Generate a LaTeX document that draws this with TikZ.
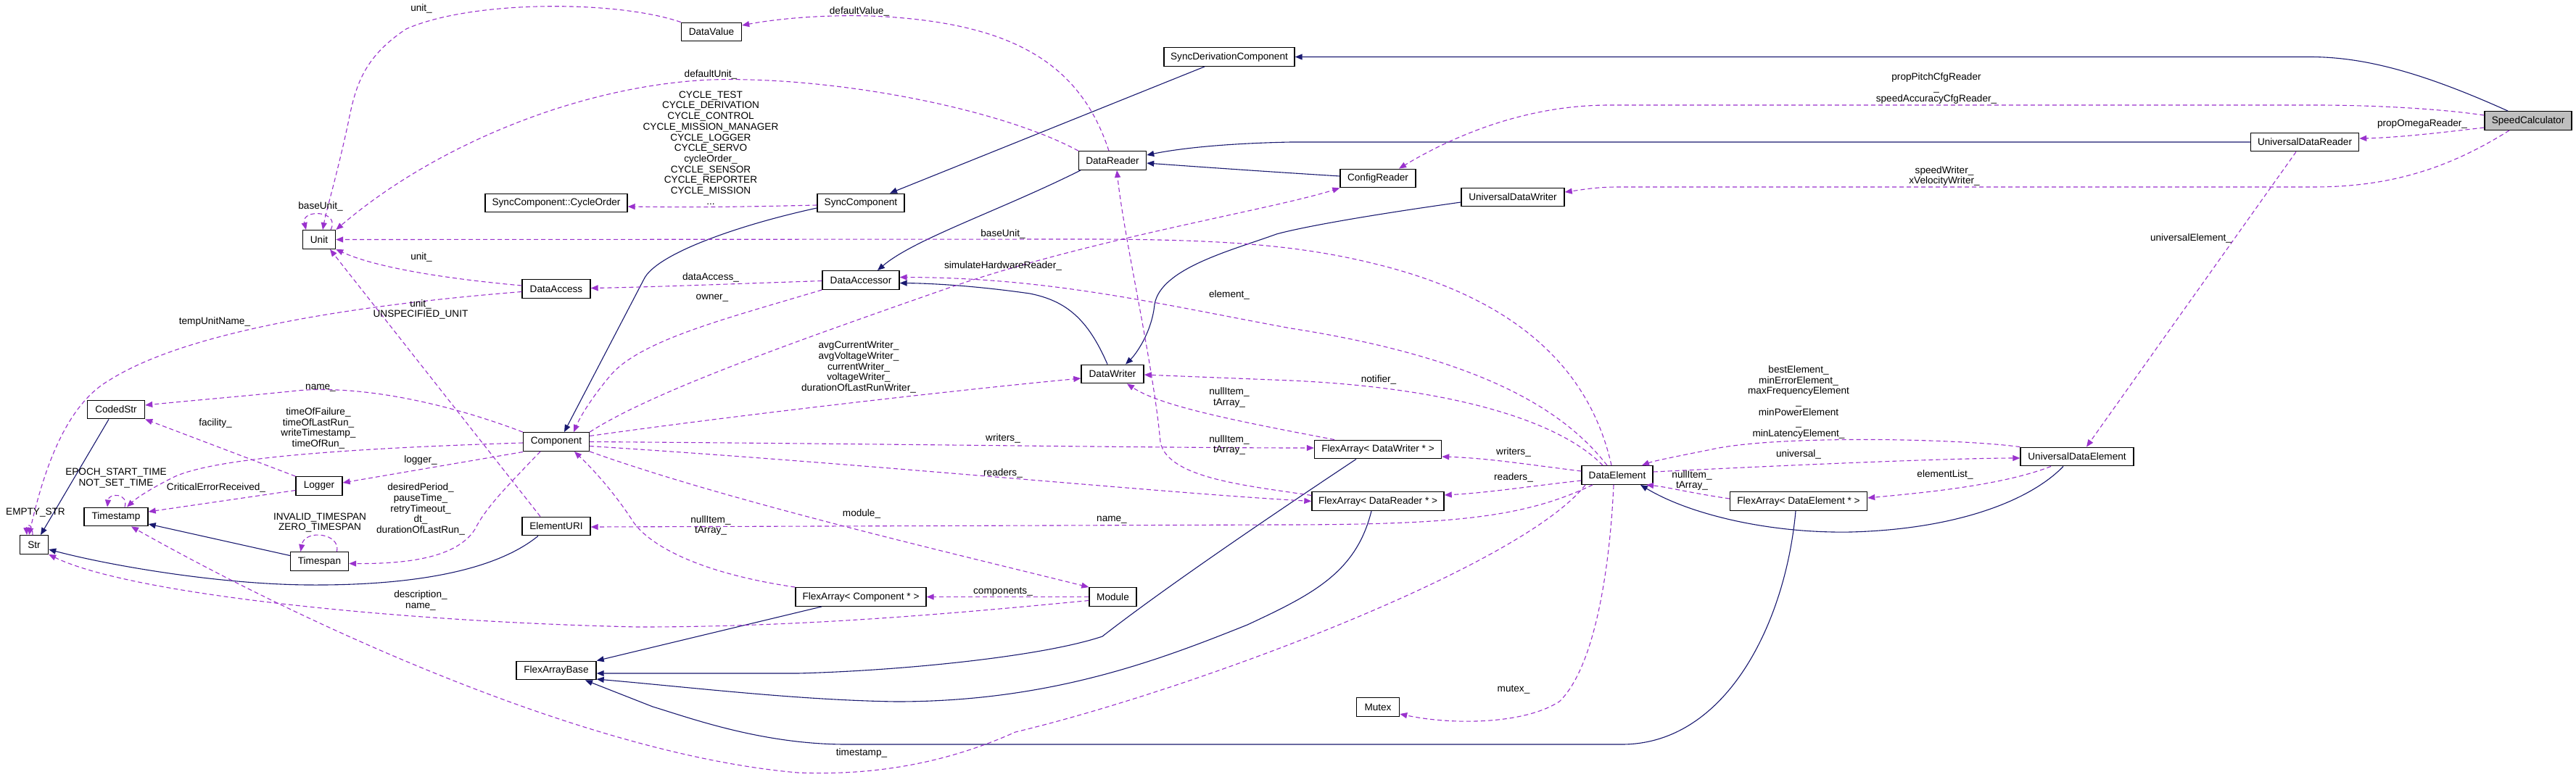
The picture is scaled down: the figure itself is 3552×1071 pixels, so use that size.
\documentclass[tikz,border=0pt]{standalone}
\usepackage{fontspec}
\setmainfont{Liberation Sans}
\usetikzlibrary{arrows.meta}
\definecolor{navyc}{HTML}{191970}
\definecolor{purp}{HTML}{9A32CD}
\definecolor{gfill}{HTML}{BFBFBF}
\newcommand\lbl{\fontsize{6.8pt}{7.35pt}\selectfont}
\tikzset{
 cls/.style={draw=black, line width=0.7pt, fill=white, inner sep=0pt, minimum height=12.75pt, font=\lbl},
 inh/.style={draw=navyc, line width=0.55pt, -{Triangle[length=5pt,width=4pt]}},
 use/.style={draw=purp, line width=0.55pt, dash pattern=on 3pt off 2pt, -{Triangle[length=5pt,width=4pt]}},
 lab/.style={font=\lbl, align=center, inner sep=0pt},
}
\begin{document}
\begin{tikzpicture}[x=0.5pt,y=-0.5pt]
\fill[white] (0,0) rectangle (3552,1071);
\useasboundingbox (0,0) rectangle (3552,1071);
% classes
\node[cls,minimum width=60pt,fill=gfill] (SC) at (3486,166.5) {SpeedCalculator};
\node[cls,minimum width=90pt] (SDC) at (1695,78.5) {SyncDerivationComponent};
\node[cls,minimum width=74.5pt] (UDR) at (3178,196) {UniversalDataReader};
\node[cls,minimum width=52pt] (CR) at (1900,246) {ConfigReader};
\node[cls,minimum width=71pt] (UDW) at (2086,272) {UniversalDataWriter};
\node[cls,minimum width=46.5pt] (DR) at (1534,221.5) {DataReader};
\node[cls,minimum width=41.5pt] (DV) at (981,44) {DataValue};
\node[cls,minimum width=60pt] (SyC) at (1187,280) {SyncComponent};
\node[cls,minimum width=98pt] (CO) at (767,280) {SyncComponent::CycleOrder};
\node[cls,minimum width=22.5pt] (Unit) at (440,330.5) {Unit};
\node[cls,minimum width=47pt] (DAc) at (767,398.5) {DataAccess};
\node[cls,minimum width=53pt] (DAr) at (1187,386.5) {DataAccessor};
\node[cls,minimum width=43pt] (DW) at (1534,516) {DataWriter};
\node[cls,minimum width=39.5pt] (CS) at (160,565) {CodedStr};
\node[cls,minimum width=45.5pt] (Comp) at (767,609.5) {Component};
\node[cls,minimum width=32pt] (Log) at (440,670.5) {Logger};
\node[cls,minimum width=44pt] (TS) at (160,713) {Timestamp};
\node[cls,minimum width=19.5pt] (Str) at (47,751.5) {Str};
\node[cls,minimum width=40pt] (TSp) at (440.5,774.5) {Timespan};
\node[cls,minimum width=47pt] (EU) at (767,726) {ElementURI};
\node[cls,minimum width=55pt] (FAB) at (767,925) {FlexArrayBase};
\node[cls,minimum width=90pt] (FAC) at (1187,823.5) {FlexArray< Component * >};
\node[cls,minimum width=32.5pt] (Mod) at (1534.5,823.5) {Module};
\node[cls,minimum width=87.5pt] (FADW) at (1900,620) {FlexArray< DataWriter * >};
\node[cls,minimum width=91pt] (FADR) at (1900,691.5) {FlexArray< DataReader * >};
\node[cls,minimum width=49pt] (DE) at (2230,655.5) {DataElement};
\node[cls,minimum width=94.5pt] (FADE) at (2480,691.5) {FlexArray< DataElement * >};
\node[cls,minimum width=78pt] (UDE) at (2864,630) {UniversalDataElement};
\node[cls,minimum width=29.5pt] (Mut) at (1900,975.5) {Mutex};
% inheritance
\draw[inh] ([xshift=-14pt]SC.north) .. controls (3340,100) and (3260,78.5) .. (3185,78.5) -- (SDC.east);
\draw[inh] ([xshift=-17pt]SDC.south) -- ([xshift=20pt]SyC.north);
\draw[inh] ([yshift=-3.5pt]SyC.west) .. controls (1020,310) and (905,350) .. (888,385) -- ([xshift=5.5pt]Comp.north);
\draw[inh] ([xshift=-22pt]DR.south) .. controls (1380,290) and (1260,330) .. ([xshift=11.5pt]DAr.north);
\draw[inh] ([xshift=-3.5pt]DW.north) .. controls (1500,440) and (1470,415) .. (1420,405) .. controls (1350,395) and (1290,391) .. ([yshift=-2pt]DAr.east);
\draw[inh] ([yshift=-3.5pt]UDW.west) .. controls (1900,295) and (1800,312) .. (1760,323) .. controls (1700,345) and (1600,370) .. (1592,420) .. controls (1588,460) and (1565,490) .. ([xshift=9pt]DW.north);
\draw[inh] (UDR.west) -- (1780,196) .. controls (1680,198) and (1620,206) .. ([yshift=3.75pt]DR.east);
\draw[inh] ([yshift=1.5pt]CR.west) .. controls (1750,237) and (1650,230) .. ([yshift=-1.75pt]DR.east);
\draw[inh] ([xshift=-5pt]CS.south) -- ([xshift=4.5pt]Str.north);
\draw[inh] ([yshift=4pt]TSp.west) -- ([yshift=-5pt]TS.east);
\draw[inh] ([xshift=-12.5pt]EU.south) .. controls (680,790) and (560,808) .. (425,807) .. controls (300,806) and (150,780) .. ([yshift=-3.25pt]Str.east);
\draw[inh] ([xshift=-27pt]FAC.south) -- (FAB.north east);
\draw[inh] ([xshift=-15pt]FADW.south) .. controls (1800,680) and (1620,800) .. (1520,878) .. controls (1440,905) and (1250,925) .. (1100,929) -- ([yshift=-2pt]FAB.east);
\draw[inh] ([xshift=-4.5pt]FADR.south) .. controls (1870,790) and (1810,820) .. (1720,862) .. controls (1600,910) and (1450,968) .. (1236,968) .. controls (1100,966) and (950,948) .. ([yshift=-6pt]FAB.east);
\draw[inh] ([xshift=-2pt]FADE.south) .. controls (2462,860) and (2380,1027) .. (2236,1027) -- (1167,1027) .. controls (1050,1027) and (950,990) .. (900,975) -- ([xshift=20pt]FAB.south);
\draw[inh] ([xshift=-9.5pt]UDE.south) .. controls (2800,690) and (2700,730) .. (2552,734) .. controls (2440,736) and (2330,710) .. ([xshift=16pt]DE.south);
% usage
\draw[use] (DV.north west) .. controls (850,0) and (650,0) .. (560,40) .. controls (500,80) and (490,120) .. (480,170) .. controls (465,240) and (450,290) .. ([xshift=2.5pt]Unit.north);
\draw[use] ([xshift=-2.5pt]DR.north) .. controls (1490,90) and (1400,30) .. (1200,22) .. controls (1120,20) and (1060,28) .. ([yshift=4.5pt]DV.east);
\draw[use] (DR.north west) .. controls (1380,150) and (1150,105) .. (980,110) .. controls (800,118) and (600,200) .. (Unit.north east);
\draw[use] ([xshift=8pt]Unit.north) .. controls (470,290) and (415,288) .. ([xshift=-9pt]Unit.north);
\draw[use] ([yshift=-1.5pt]SyC.west) .. controls (1000,286) and (950,286) .. ([yshift=-2.5pt]CO.east);
\draw[use] ([xshift=-4pt]DE.north) .. controls (2190,500) and (2080,410) .. (1900,365) .. controls (1800,340) and (1700,330) .. (1500,330) -- (Unit.east);
\draw[use] ([yshift=2.25pt]DAc.west) .. controls (620,385) and (520,370) .. (Unit.south east);
\draw[use] ([yshift=-0.5pt]DAr.west) .. controls (1000,392) and (900,396) .. ([yshift=0.5pt]DAc.east);
\draw[use] ([yshift=-2pt]DAc.west) .. controls (500,420) and (260,455) .. (150,525) .. controls (90,560) and (60,650) .. ([xshift=-3.5pt]Str.north);
\draw[use] ([xshift=-11pt]EU.north) -- ([xshift=7.5pt]Unit.south);
\draw[use] (Comp.north west) .. controls (600,550) and (480,530) .. (400,540) .. controls (320,548) and (260,553) .. ([yshift=3pt]CS.east);
\draw[use] (Log.north west) -- (CS.south east);
\draw[use] ([yshift=-0.75pt]Comp.west) .. controls (500,618) and (300,630) .. (240,658) .. controls (200,678) and (185,690) .. ([xshift=7.5pt]TS.north);
\draw[use] ([yshift=-7pt]Comp.west) -- ([yshift=2.25pt]Log.east);
\draw[use] ([yshift=-3pt]Log.west) -- ([yshift=3.5pt]TS.east);
\draw[use] ([xshift=6pt]TS.north) .. controls (178,680) and (150,680) .. ([xshift=-6pt]TS.north);
\draw[use] ([xshift=-11pt]Comp.south) .. controls (700,670) and (670,700) .. (655,730) .. controls (630,770) and (560,778) .. ([yshift=-1.5pt]TSp.east);
\draw[use] ([xshift=12pt]TSp.north) .. controls (470,735) and (420,730) .. ([xshift=-13pt]TSp.north);
\draw[use] ([xshift=-1pt]Str.north) .. controls (45,722) and (36,722) .. ([xshift=-5pt]Str.north);
\draw[use] ([yshift=-2.5pt]Mod.west) .. controls (1300,848) and (1100,865) .. (880,865) .. controls (550,858) and (180,820) .. (Str.south east);
\draw[use] ([xshift=-22pt]DE.south) .. controls (2100,780) and (1650,950) .. (1400,1010) .. controls (1300,1055) and (1200,1070) .. (1100,1066) .. controls (800,1040) and (400,850) .. ([xshift=10.5pt]TS.south);
\draw[use] ([xshift=-2.5pt]DE.south) .. controls (2220,780) and (2200,920) .. (2150,968) .. controls (2100,1000) and (2000,1000) .. ([yshift=-4.75pt]Mut.east);
\draw[use] ([xshift=-10pt]DE.north) .. controls (2150,580) and (2000,535) .. (1780,525) -- ([yshift=-0.5pt]DW.east);
\draw[use] ([xshift=-7pt]DE.north) .. controls (2160,570) and (2050,495) .. (1780,453) .. controls (1600,420) and (1450,383) .. ([yshift=2pt]DAr.east);
\draw[use] (DAr.south west) .. controls (1000,440) and (880,470) .. (840,520) .. controls (815,550) and (800,575) .. ([xshift=12pt]Comp.north);
\draw[use] (Comp.north east) .. controls (900,540) and (1100,470) .. (1300,400) .. controls (1500,330) and (1750,290) .. (CR.south west);
\draw[use] ([yshift=4pt]Comp.east) .. controls (1000,575) and (1300,540) .. ([yshift=-3pt]DW.west);
\draw[use] (Comp.east) .. controls (1200,612) and (1600,618) .. ([yshift=1pt]FADW.west);
\draw[use] ([yshift=-3pt]Comp.east) .. controls (1200,640) and (1600,680) .. (FADR.west);
\draw[use] (Comp.south east) .. controls (1000,690) and (1300,760) .. (Mod.north west);
\draw[use] (FAC.north west) .. controls (960,790) and (890,750) .. (870,715) .. controls (840,670) and (810,640) .. ([xshift=12.5pt]Comp.south);
\draw[use] (Mod.west) -- (FAC.east);
\draw[use] ([xshift=-30pt]FADW.north) .. controls (1700,580) and (1600,560) .. ([xshift=10pt]DW.south);
\draw[use] ([yshift=4pt]FADR.west) .. controls (1720,670) and (1610,660) .. (1600,610) .. controls (1590,500) and (1550,330) .. ([xshift=3pt]DR.south);
\draw[use] ([yshift=2.75pt]DE.west) .. controls (2100,640) and (2050,632) .. ([yshift=-5pt]FADW.east);
\draw[use] ([yshift=-3.75pt]DE.west) .. controls (2100,672) and (2050,680) .. ([yshift=4.25pt]FADR.east);
\draw[use] ([xshift=-17pt]DE.south) .. controls (2100,715) and (2000,724) .. (1760,724) -- ([yshift=-0.5pt]EU.east);
\draw[use] ([yshift=2.25pt]DE.east) .. controls (2500,640) and (2700,632) .. ([yshift=-1pt]UDE.west);
\draw[use] (UDE.north west) .. controls (2700,605) and (2450,600) .. (2360,620) .. controls (2310,630) and (2280,636) .. ([xshift=17pt]DE.north);
\draw[use] ([yshift=1.75pt]FADE.west) .. controls (2330,680) and (2300,672) .. ([xshift=20pt]DE.south);
\draw[use] ([xshift=-18pt]UDE.south) .. controls (2760,670) and (2650,680) .. ([yshift=2.25pt]FADE.east);
\draw[use] ([xshift=-6pt]UDR.south) -- ([xshift=6.5pt]UDE.north);
\draw[use] ([yshift=3.75pt]SC.west) .. controls (3350,148) and (3250,145) .. (3196,145) -- (2219,145) .. controls (2100,145) and (2000,190) .. ([xshift=14.5pt]CR.north);
\draw[use] ([yshift=-4.75pt]SC.west) .. controls (3350,185) and (3300,190) .. ([yshift=2.5pt]UDR.east);
\draw[use] ([xshift=-13pt]SC.south) .. controls (3380,230) and (3300,258) .. (3190,258) -- (2230,258) .. controls (2200,258) and (2180,262) .. ([yshift=3.5pt]UDW.east);
% labels
\node[lab] (l1) at (581,12) {unit\_};
\node[lab] (l2) at (1185,16) {defaultValue\_};
\node[lab] (l3) at (980,103) {defaultUnit\_};
\node[lab] (l4) at (980,204) {CYCLE\_TEST\\CYCLE\_DERIVATION\\CYCLE\_CONTROL\\CYCLE\_MISSION\_MANAGER\\CYCLE\_LOGGER\\CYCLE\_SERVO\\cycleOrder\_\\CYCLE\_SENSOR\\CYCLE\_REPORTER\\CYCLE\_MISSION\\...};
\node[lab] (l5) at (442,285) {baseUnit\_};
\node[lab] (l6) at (1383,323) {baseUnit\_};
\node[lab] (l7) at (581,355) {unit\_};
\node[lab] (l8) at (980,383) {dataAccess\_};
\node[lab] (l9) at (982,411) {owner\_};
\node[lab] (l10) at (1383,367) {simulateHardwareReader\_};
\node[lab] (l11) at (1695,407) {element\_};
\node[lab] (l12) at (580,427) {unit\_\\UNSPECIFIED\_UNIT};
\node[lab] (l13) at (296,444) {tempUnitName\_};
\node[lab] (l14) at (1184,506.5) {avgCurrentWriter\_\\avgVoltageWriter\_\\currentWriter\_\\voltageWriter\_\\durationOfLastRunWriter\_};
\node[lab] (l15) at (1901,524) {notifier\_};
\node[lab] (l16) at (2480,555) {bestElement\_\\minErrorElement\_\\maxFrequencyElement\\\_\\minPowerElement\\\_\\minLatencyElement\_};
\node[lab] (l17) at (442,535) {name\_};
\node[lab] (l18) at (297,584) {facility\_};
\node[lab] (l19) at (439,591) {timeOfFailure\_\\timeOfLastRun\_\\writeTimestamp\_\\timeOfRun\_};
\node[lab] (l20) at (1695,548.5) {nullItem\_\\tArray\_};
\node[lab] (l21) at (1383,605) {writers\_};
\node[lab] (l22) at (1695,614) {nullItem\_\\tArray\_};
\node[lab] (l23) at (2087,624) {writers\_};
\node[lab] (l24) at (2480,627) {universal\_};
\node[lab] (l25) at (580,635) {logger\_};
\node[lab] (l26) at (160,659.5) {EPOCH\_START\_TIME\\NOT\_SET\_TIME};
\node[lab] (l27) at (1383,653) {readers\_};
\node[lab] (l28) at (2087,659) {readers\_};
\node[lab] (l29) at (2333,663) {nullItem\_\\tArray\_};
\node[lab] (l30) at (2682,655) {elementList\_};
\node[lab] (l31) at (298,673) {CriticalErrorReceived\_};
\node[lab] (l32) at (580,702.5) {desiredPeriod\_\\pauseTime\_\\retryTimeout\_\\dt\_\\durationOfLastRun\_};
\node[lab] (l33) at (49,707) {EMPTY\_STR};
\node[lab] (l34) at (1188,709) {module\_};
\node[lab] (l35) at (441,721) {INVALID\_TIMESPAN\\ZERO\_TIMESPAN};
\node[lab] (l36) at (1533,717) {name\_};
\node[lab] (l37) at (980,725) {nullItem\_\\tArray\_};
\node[lab] (l38) at (1383,816) {components\_};
\node[lab] (l39) at (580,828.5) {description\_\\name\_};
\node[lab] (l40) at (2087,951) {mutex\_};
\node[lab] (l41) at (1188,1039) {timestamp\_};
\node[lab] (l42) at (2670,122) {propPitchCfgReader\\\_\\speedAccuracyCfgReader\_};
\node[lab] (l43) at (3340,171) {propOmegaReader\_};
\node[lab] (l44) at (2681,243) {speedWriter\_\\xVelocityWriter\_};
\node[lab] (l45) at (3021,329) {universalElement\_};
\end{tikzpicture}
\end{document}
